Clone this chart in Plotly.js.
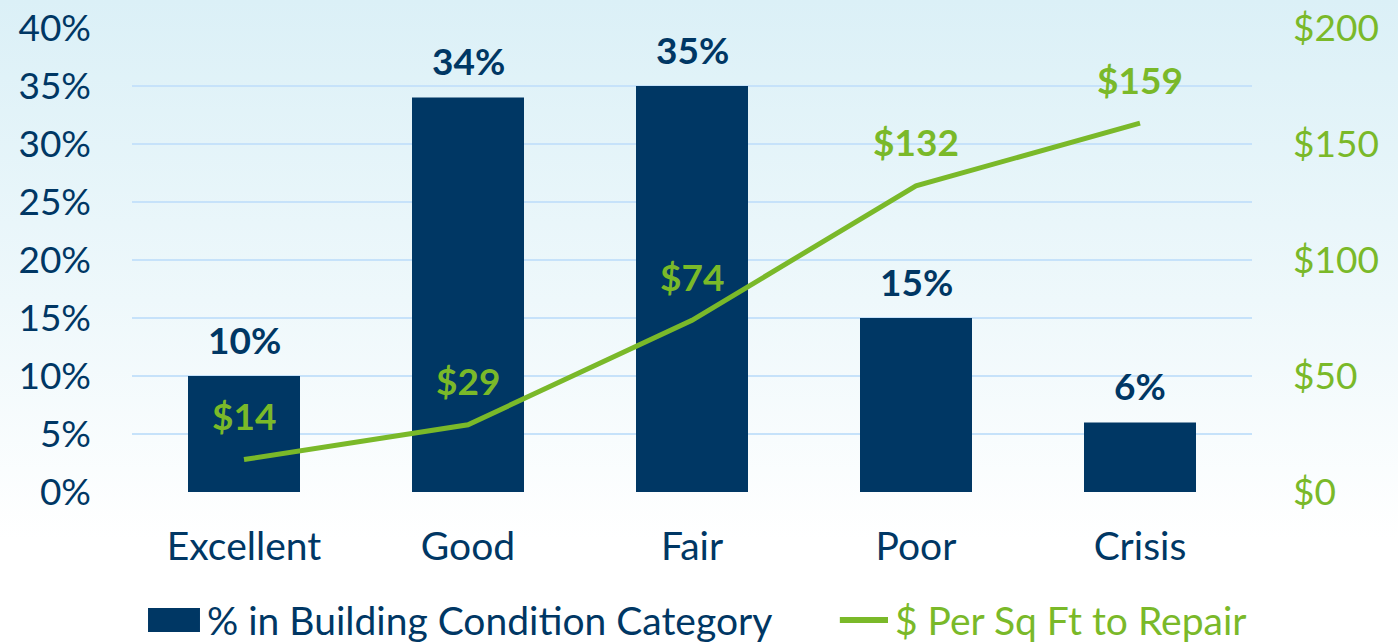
<!DOCTYPE html>
<html>
<head>
<meta charset="utf-8">
<script src="https://cdn.plot.ly/plotly-3.0.1.min.js"></script>
<style>
  html, body { margin: 0; padding: 0; }
  body { width: 1398px; height: 642px; background: linear-gradient(to bottom, #dbf0f7 0px, #eef8fb 300px, #ffffff 540px, #ffffff 642px); }
  #chart { width: 1398px; height: 642px; }
</style>
</head>
<body>
<div id="chart"></div>
<script>
const categories = ["Excellent", "Good", "Fair", "Poor", "Crisis"];
const pctValues = [10, 34, 35, 15, 6];
const costValues = [14, 29, 74, 132, 159];
const pctTicks = [0, 5, 10, 15, 20, 25, 30, 35, 40];
const costTicks = [0, 50, 100, 150, 200];
const barName = "% in Building Condition Category";
const lineName = "$ Per Sq Ft to Repair";

const NAVY = "#003764";
const GREEN = "#7ab929";
const FONT = "Lato, 'Open Sans', sans-serif";

const bar = {
  type: "bar", x: categories, y: pctValues, name: barName,
  marker: { color: NAVY }, width: 0.5, yaxis: "y", hoverinfo: "skip"
};
const line = {
  type: "scatter", mode: "lines", x: categories, y: costValues, name: lineName,
  line: { color: GREEN, width: 5 }, yaxis: "y2", hoverinfo: "skip"
};

const annotations = [];
categories.forEach((c, i) => {
  annotations.push({ x: c, y: pctValues[i], xref: "x", yref: "y", yshift: 37, showarrow: false,
    text: "<b>" + pctValues[i] + "%</b>", font: { family: FONT, size: 37, color: NAVY } });
  annotations.push({ x: c, y: costValues[i], xref: "x", yref: "y2", yshift: 44, showarrow: false,
    text: "<b>$" + costValues[i] + "</b>", font: { family: FONT, size: 37, color: GREEN } });
});

// custom legend (paper coordinates)
annotations.push({ xref: "paper", yref: "paper", x: 0.0652, y: -0.276, xanchor: "left", yanchor: "middle",
  showarrow: false, text: barName, font: { family: FONT, size: 39, color: NAVY } });
annotations.push({ xref: "paper", yref: "paper", x: 0.6795, y: -0.276, xanchor: "left", yanchor: "middle",
  showarrow: false, text: lineName, font: { family: FONT, size: 39, color: GREEN } });

const shapes = [
  { type: "rect", xref: "paper", yref: "paper", x0: 0.0143, x1: 0.0607, y0: -0.3017, y1: -0.25,
    fillcolor: NAVY, line: { width: 0 } },
  { type: "line", xref: "paper", yref: "paper", x0: 0.632, x1: 0.675, y0: -0.2759, y1: -0.2759,
    line: { color: GREEN, width: 6 } }
];

const layout = {
  width: 1398, height: 642,
  margin: { l: 132, r: 146, t: 28, b: 150 },
  paper_bgcolor: "rgba(0,0,0,0)", plot_bgcolor: "rgba(0,0,0,0)",
  font: { family: FONT, color: NAVY, size: 36 },
  bargap: 0.5,
  xaxis: { type: "category", showgrid: false, zeroline: false, showline: false, ticks: "",
    tickfont: { family: FONT, size: 39, color: NAVY }, ticklabelstandoff: 28 },
  yaxis: { range: [0, 40], tickvals: pctTicks, ticktext: pctTicks.map(v => v + "%"),
    showgrid: true, gridcolor: "#c6e2fa", gridwidth: 2, zeroline: false, showline: false, ticks: "",
    tickfont: { family: FONT, size: 37, color: NAVY }, ticklabelstandoff: 40 },
  yaxis2: { range: [0, 200], tickvals: costTicks, ticktext: costTicks.map(v => "$" + v),
    overlaying: "y", side: "right", showgrid: false, zeroline: false, showline: false, ticks: "",
    tickfont: { family: FONT, size: 37, color: GREEN }, ticklabelstandoff: 40 },
  showlegend: false,
  annotations: annotations,
  shapes: shapes
};

Plotly.newPlot("chart", [bar, line], layout, { displayModeBar: false, staticPlot: true });
</script>
</body>
</html>
